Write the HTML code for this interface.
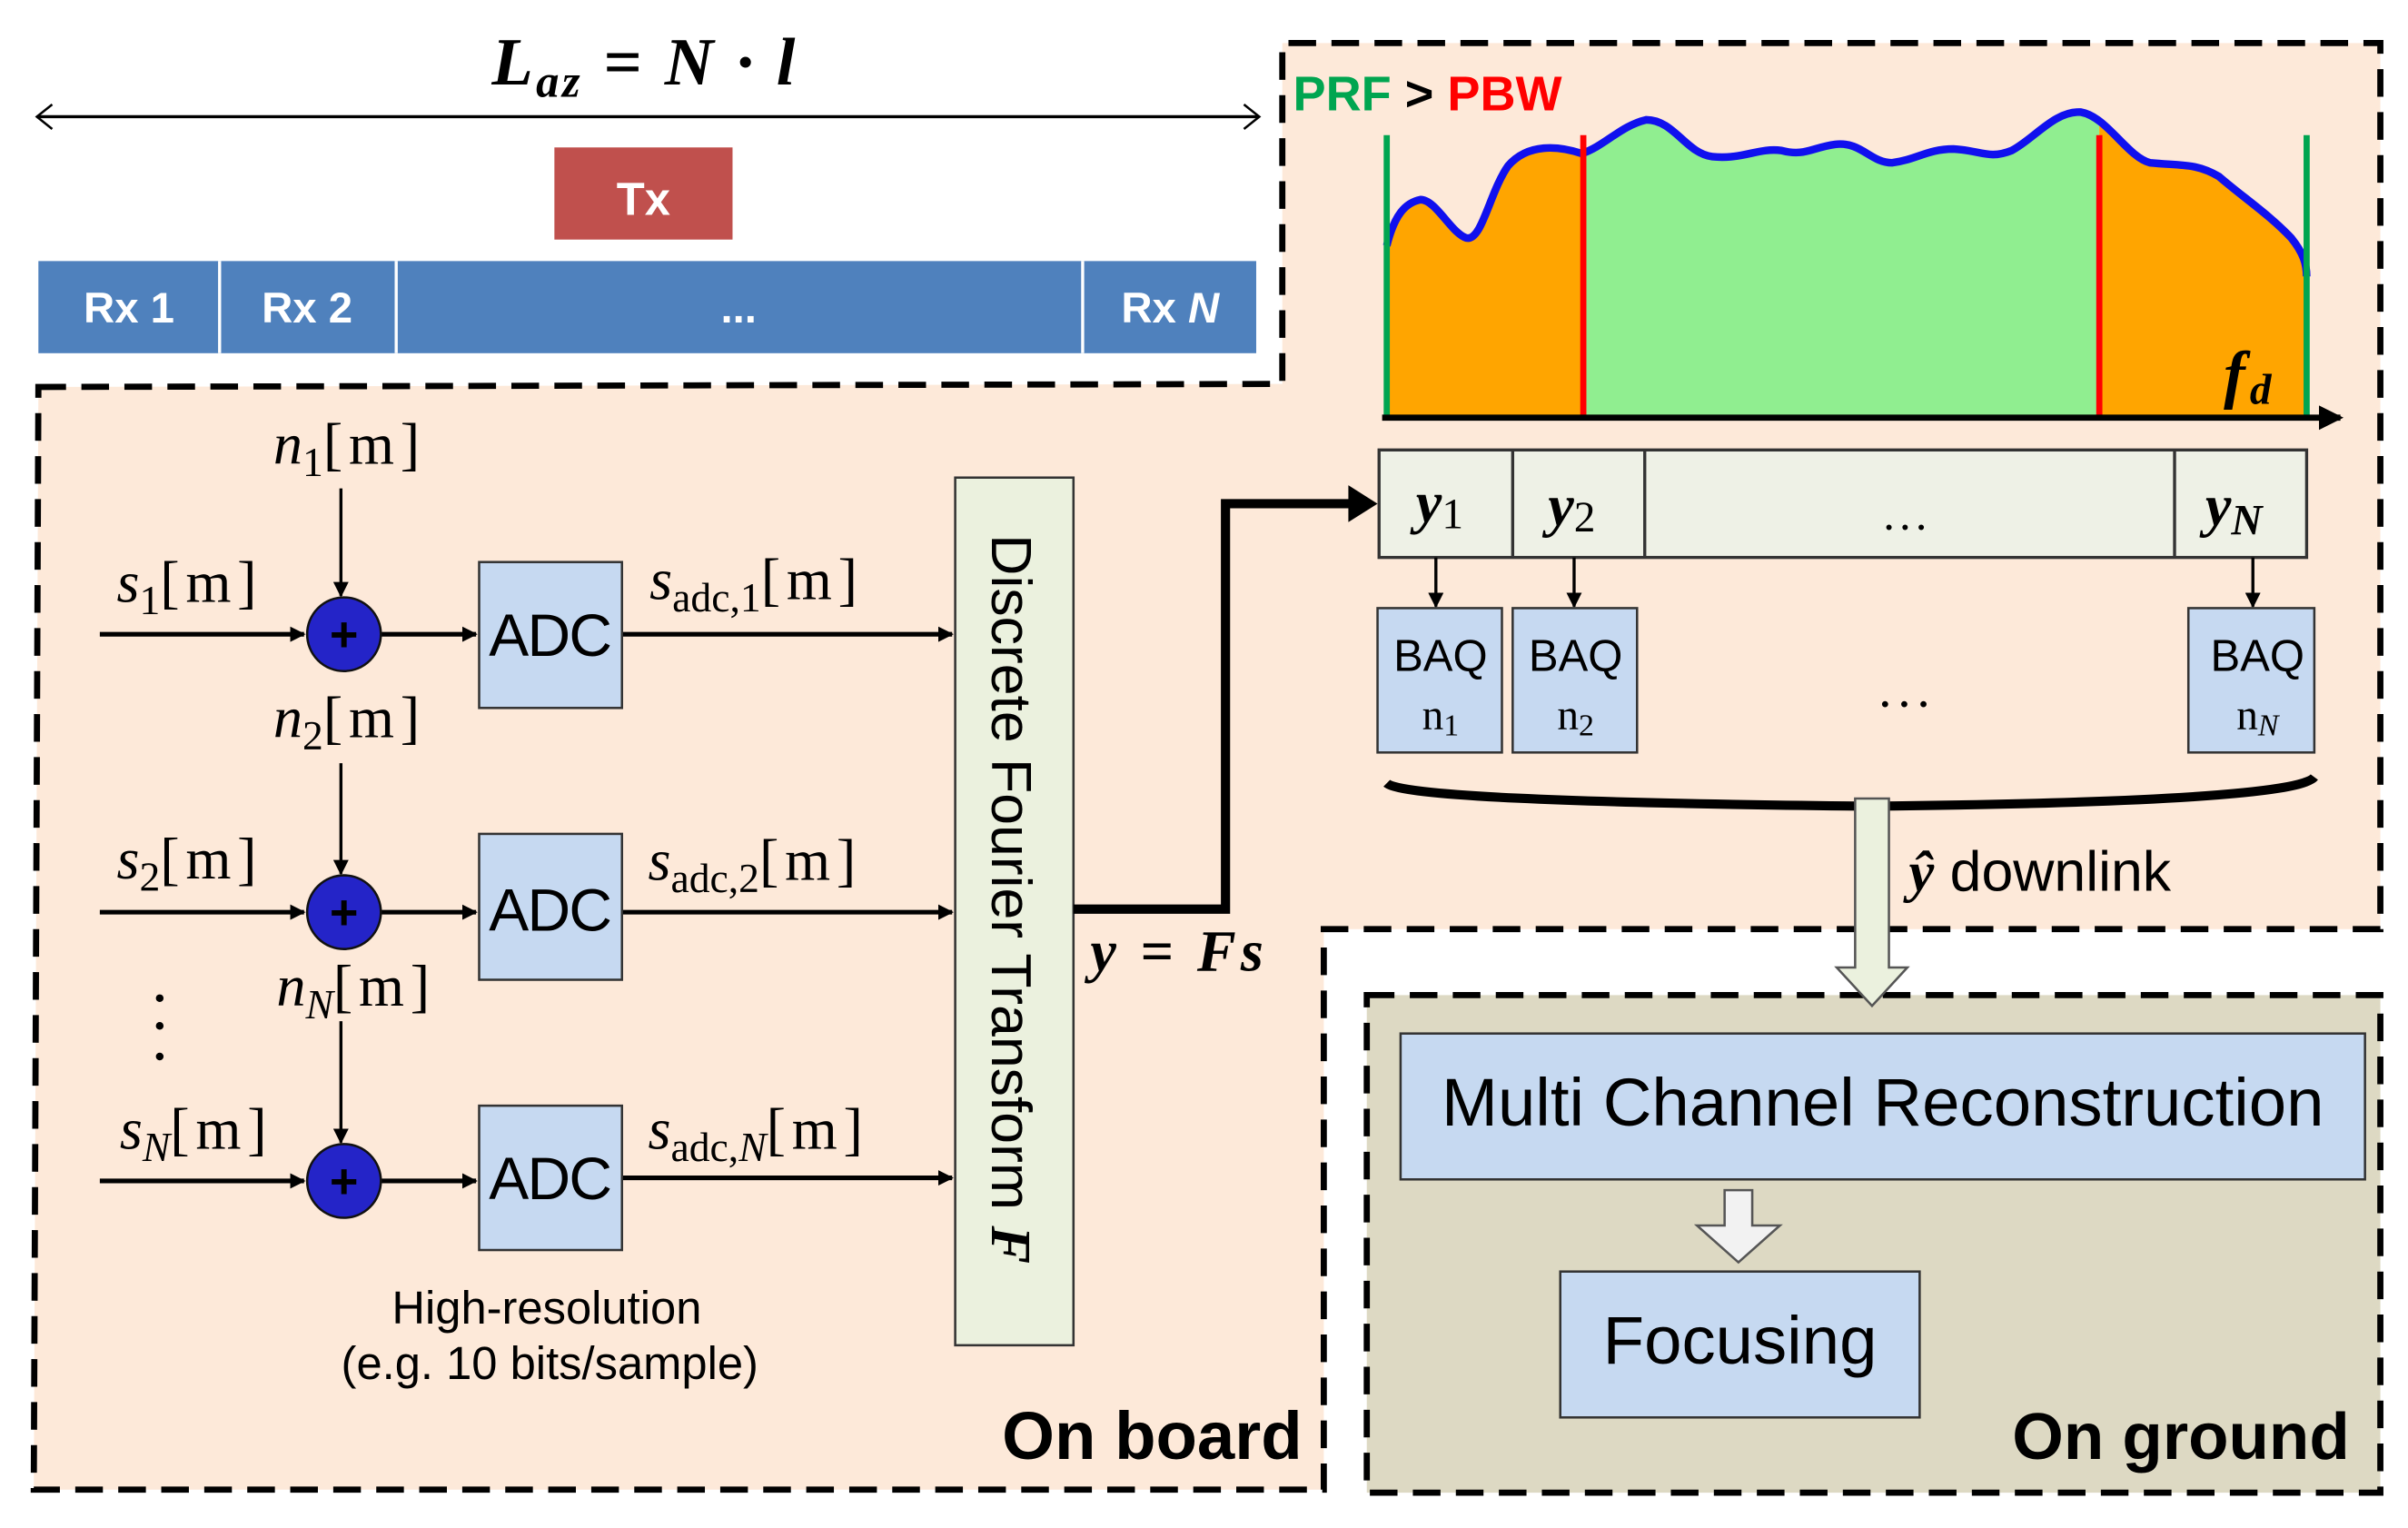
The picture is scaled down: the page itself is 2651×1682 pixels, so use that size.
<!DOCTYPE html>
<html><head><meta charset="utf-8"><style>
html,body{margin:0;padding:0;background:#fff;}
svg{display:block;}
</style></head><body>
<svg xmlns="http://www.w3.org/2000/svg" width="2651" height="1682" viewBox="0 0 1568 995" preserveAspectRatio="none">
<defs>
<marker id="ah" markerWidth="10" markerHeight="10" refX="9" refY="5" orient="auto" markerUnits="userSpaceOnUse"><path d="M0,0 L10,5 L0,10 z" fill="#000"/></marker>
<marker id="ahb" markerWidth="16" markerHeight="16" refX="14" refY="8" orient="auto" markerUnits="userSpaceOnUse"><path d="M0,0 L16,8 L0,16 z" fill="#000"/></marker>
<clipPath id="spec"><path d="M903,272 L903,160 C908,140 915,132 925,130 C935,130 945,152 955,155 C965,157 970,125 982,108 C995,93 1015,95 1030,100 C1045,95 1055,82 1072,78 C1090,78 1098,100 1115,102 C1135,104 1145,96 1160,98 C1175,102 1180,96 1195,94 C1212,92 1218,106 1232,106 C1248,104 1255,97 1272,97 C1290,98 1295,104 1310,98 C1325,90 1338,72 1355,73 C1372,76 1385,102 1400,106 C1420,108 1430,106 1445,115 C1460,128 1478,140 1492,155 C1500,165 1502,172 1502,180 L1502,272 Z"/></clipPath>
</defs>

<path d="M25,252 L835,250 L835,28 L1550,28 L1550,605 L862,605 L862,970 L22,970 Z" fill="#fde9d9"/>
<path d="M25,252 L835,250 L835,28 L1550,28 L1550,605 L862,605 L862,970 L22,970 Z" fill="none" stroke="#000" stroke-width="4" stroke-dasharray="18,10"/>

<rect x="890" y="648" width="660" height="324" fill="#ddd9c3" stroke="#000" stroke-width="4" stroke-dasharray="18,10"/>

<text x="420" y="55" text-anchor="middle" font-family="Liberation Serif, serif" font-style="italic" font-weight="bold" font-size="44" letter-spacing="2">L<tspan font-size="30" dy="8">az</tspan><tspan dy="-8"> = N · l</tspan></text>
<line x1="24" y1="76" x2="820" y2="76" stroke="#000" stroke-width="2"/>
<path d="M34,68 L24,76 L34,84 M810,68 L820,76 L810,84" fill="none" stroke="#000" stroke-width="1.5"/>
<rect x="361" y="96" width="116" height="60" fill="#c0504d"/>
<text x="419" y="140" text-anchor="middle" fill="#fff" font-family="Liberation Sans, sans-serif" font-weight="bold" font-size="30">Tx</text>
<rect x="25" y="170" width="793" height="60" fill="#4f81bd"/>
<g stroke="#fff" stroke-width="2"><line x1="143" y1="170" x2="143" y2="230"/><line x1="258" y1="170" x2="258" y2="230"/><line x1="705" y1="170" x2="705" y2="230"/></g>
<g fill="#fff" font-family="Liberation Sans, sans-serif" font-weight="bold" font-size="28" text-anchor="middle">
<text x="84" y="210">Rx 1</text><text x="200" y="210">Rx 2</text><text x="481" y="210">...</text><text x="762" y="210">Rx <tspan font-style="italic">N</tspan></text></g>

<g clip-path="url(#spec)">
<rect x="903" y="60" width="128" height="215" fill="#ffa500"/>
<rect x="1031" y="60" width="336" height="215" fill="#90ee90"/>
<rect x="1367" y="60" width="136" height="215" fill="#ffa500"/>
</g>
<path d="M903,160 C908,140 915,132 925,130 C935,130 945,152 955,155 C965,157 970,125 982,108 C995,93 1015,95 1030,100 C1045,95 1055,82 1072,78 C1090,78 1098,100 1115,102 C1135,104 1145,96 1160,98 C1175,102 1180,96 1195,94 C1212,92 1218,106 1232,106 C1248,104 1255,97 1272,97 C1290,98 1295,104 1310,98 C1325,90 1338,72 1355,73 C1372,76 1385,102 1400,106 C1420,108 1430,106 1445,115 C1460,128 1478,140 1492,155 C1500,165 1502,172 1502,180" fill="none" stroke="#1010ee" stroke-width="5"/>
<line x1="903" y1="88" x2="903" y2="272" stroke="#00a550" stroke-width="4"/>
<line x1="1502" y1="88" x2="1502" y2="272" stroke="#00a550" stroke-width="4"/>
<line x1="1031" y1="88" x2="1031" y2="272" stroke="#ff0000" stroke-width="4"/>
<line x1="1367" y1="88" x2="1367" y2="272" stroke="#ff0000" stroke-width="4"/>
<line x1="900" y1="272" x2="1524" y2="272" stroke="#000" stroke-width="4" marker-end="url(#ahb)"/>
<text x="1448" y="258" font-family="Liberation Serif, serif" font-style="italic" font-weight="bold" font-size="42" letter-spacing="3">f<tspan font-size="28" dy="5">d</tspan></text>
<text x="842" y="72" font-family="Liberation Sans, sans-serif" font-weight="bold" font-size="32"><tspan fill="#00a550">PRF</tspan><tspan fill="#000"> &gt; </tspan><tspan fill="#ff0000">PBW</tspan></text>

<rect x="898" y="293" width="604" height="70" fill="#eef1e6" stroke="#333" stroke-width="2"/>
<g stroke="#333" stroke-width="2"><line x1="985" y1="293" x2="985" y2="363"/><line x1="1071" y1="293" x2="1071" y2="363"/><line x1="1416" y1="293" x2="1416" y2="363"/></g>
<g font-family="Liberation Serif, serif" font-style="italic" font-weight="bold" font-size="38">
<text x="922" y="340">y<tspan font-size="28" font-style="normal" font-weight="normal" dy="4">1</tspan></text>
<text x="1008" y="342">y<tspan font-size="28" font-style="normal" font-weight="normal" dy="4">2</tspan></text>
<text x="1436" y="342">y<tspan font-size="28" dy="6">N</tspan></text></g>
<text x="1242" y="345" text-anchor="middle" font-family="Liberation Serif, serif" font-size="30" letter-spacing="3">...</text>
<g stroke="#000" stroke-width="2"><line x1="935" y1="363" x2="935" y2="395" marker-end="url(#ah)"/><line x1="1025" y1="363" x2="1025" y2="395" marker-end="url(#ah)"/><line x1="1467" y1="363" x2="1467" y2="395" marker-end="url(#ah)"/></g>
<g fill="#c6d9f1" stroke="#333" stroke-width="1.5"><rect x="897" y="396" width="81" height="94"/><rect x="985" y="396" width="81" height="94"/><rect x="1425" y="396" width="82" height="94"/></g>
<g font-family="Liberation Sans, sans-serif" font-size="29" text-anchor="middle"><text x="938" y="437">BAQ</text><text x="1026" y="437">BAQ</text><text x="1470" y="437">BAQ</text></g>
<g font-family="Liberation Serif, serif" font-size="28" text-anchor="middle"><text x="938" y="475">n<tspan font-size="20" dy="4">1</tspan></text><text x="1026" y="475">n<tspan font-size="20" dy="4">2</tspan></text><text x="1470" y="475">n<tspan font-size="20" font-style="italic" dy="4">N</tspan></text></g>
<text x="1242" y="460" text-anchor="middle" font-family="Liberation Serif, serif" font-size="34" letter-spacing="4">...</text>
<path d="M903,510 Q915,522 1218,525 Q1495,522 1507,506" fill="none" stroke="#000" stroke-width="6"/>
<path d="M1208,520 L1230,520 L1230,630 L1242,630 L1219,655 L1196,630 L1208,630 Z" fill="#ebf1de" stroke="#555" stroke-width="1.5"/>
<text x="1243" y="580" font-family="Liberation Sans, sans-serif" font-size="37"><tspan font-family="Liberation Serif, serif" font-style="italic" font-weight="bold">ŷ</tspan> downlink</text>

<rect x="912" y="673" width="628" height="95" fill="#c6d9f1" stroke="#333" stroke-width="1.5"/>
<text x="1226" y="733" text-anchor="middle" font-family="Liberation Sans, sans-serif" font-size="44">Multi Channel Reconstruction</text>
<path d="M1123,775 L1141,775 L1141,798 L1159,798 L1132,822 L1105,798 L1123,798 Z" fill="#f2f2f2" stroke="#555" stroke-width="1.5"/>
<rect x="1016" y="828" width="234" height="95" fill="#c6d9f1" stroke="#333" stroke-width="1.5"/>
<text x="1133" y="888" text-anchor="middle" font-family="Liberation Sans, sans-serif" font-size="44">Focusing</text>
<text x="1530" y="950" text-anchor="end" font-family="Liberation Sans, sans-serif" font-weight="bold" font-size="43">On ground</text>

<text x="848" y="950" text-anchor="end" font-family="Liberation Sans, sans-serif" font-weight="bold" font-size="44">On board</text>
<g font-family="Liberation Serif, serif" font-size="38">
<text x="178" y="302"><tspan font-style="italic">n</tspan><tspan font-size="27" dy="8">1</tspan><tspan dy="-8" letter-spacing="4">[m]</tspan></text>
<text x="178" y="480"><tspan font-style="italic">n</tspan><tspan font-size="27" dy="8">2</tspan><tspan dy="-8" letter-spacing="4">[m]</tspan></text>
<text x="180" y="655"><tspan font-style="italic">n</tspan><tspan font-size="27" font-style="italic" dy="8">N</tspan><tspan dy="-8" letter-spacing="4">[m]</tspan></text>
<text x="76" y="392"><tspan font-style="italic">s</tspan><tspan font-size="27" dy="8">1</tspan><tspan dy="-8" letter-spacing="4">[m]</tspan></text>
<text x="76" y="572"><tspan font-style="italic">s</tspan><tspan font-size="27" dy="8">2</tspan><tspan dy="-8" letter-spacing="4">[m]</tspan></text>
<text x="78" y="748"><tspan font-style="italic">s</tspan><tspan font-size="27" font-style="italic" dy="8">N</tspan><tspan dy="-8" letter-spacing="4">[m]</tspan></text>
<text x="423" y="390"><tspan font-style="italic">s</tspan><tspan font-size="27" dy="8">adc,1</tspan><tspan dy="-8" letter-spacing="4">[m]</tspan></text>
<text x="422" y="573"><tspan font-style="italic">s</tspan><tspan font-size="27" dy="8">adc,2</tspan><tspan dy="-8" letter-spacing="4">[m]</tspan></text>
<text x="422" y="748"><tspan font-style="italic">s</tspan><tspan font-size="27" dy="8">adc,</tspan><tspan font-size="27" font-style="italic">N</tspan><tspan dy="-8" letter-spacing="4">[m]</tspan></text>
</g>
<g fill="#000"><circle cx="104" cy="650" r="2.5"/><circle cx="104" cy="668" r="2.5"/><circle cx="104" cy="688" r="2.5"/></g>
<g stroke="#000" stroke-width="3">
<line x1="65" y1="413" x2="198" y2="413" marker-end="url(#ah)"/>
<line x1="65" y1="594" x2="198" y2="594" marker-end="url(#ah)"/>
<line x1="65" y1="769" x2="198" y2="769" marker-end="url(#ah)"/>
<line x1="248" y1="413" x2="310" y2="413" marker-end="url(#ah)"/>
<line x1="248" y1="594" x2="310" y2="594" marker-end="url(#ah)"/>
<line x1="248" y1="769" x2="310" y2="769" marker-end="url(#ah)"/>
<line x1="405" y1="413" x2="620" y2="413" marker-end="url(#ah)"/>
<line x1="405" y1="594" x2="620" y2="594" marker-end="url(#ah)"/>
<line x1="405" y1="767" x2="620" y2="767" marker-end="url(#ah)"/>
</g>
<g stroke="#000" stroke-width="2">
<line x1="222" y1="318" x2="222" y2="388" marker-end="url(#ah)"/>
<line x1="222" y1="497" x2="222" y2="569" marker-end="url(#ah)"/>
<line x1="222" y1="665" x2="222" y2="744" marker-end="url(#ah)"/>
</g>
<g fill="#2424c8" stroke="#111" stroke-width="1.5"><circle cx="224" cy="413" r="24"/><circle cx="224" cy="594" r="24"/><circle cx="224" cy="769" r="24"/></g>
<g fill="#000" font-family="Liberation Sans, sans-serif" font-weight="bold" font-size="32" text-anchor="middle"><text x="224" y="424">+</text><text x="224" y="605">+</text><text x="224" y="780">+</text></g>
<g fill="#c6d9f1" stroke="#333" stroke-width="1.5"><rect x="312" y="366" width="93" height="95"/><rect x="312" y="543" width="93" height="95"/><rect x="312" y="720" width="93" height="94"/></g>
<g font-family="Liberation Sans, sans-serif" font-size="39" text-anchor="middle" letter-spacing="-1"><text x="358" y="427">ADC</text><text x="358" y="606">ADC</text><text x="358" y="781">ADC</text></g>
<g font-family="Liberation Sans, sans-serif" font-size="30" text-anchor="middle"><text x="356" y="862">High-resolution</text><text x="358" y="898">(e.g. 10 bits/sample)</text></g>
<rect x="622" y="311" width="77" height="565" fill="#ebf1de" stroke="#333" stroke-width="1.5"/>
<text transform="translate(646,348) rotate(90)" font-family="Liberation Sans, sans-serif" font-size="37">Discrete Fourier Transform <tspan font-family="Liberation Serif, serif" font-style="italic" font-weight="bold">F</tspan></text>
<path d="M699,592 L798,592 L798,328 L880,328" fill="none" stroke="#000" stroke-width="6"/>
<path d="M878,316 L897,328 L878,340 Z" fill="#000"/>
<text x="710" y="632" font-family="Liberation Serif, serif" font-style="italic" font-weight="bold" font-size="38" letter-spacing="3">y = Fs</text>
</svg>
</body></html>
